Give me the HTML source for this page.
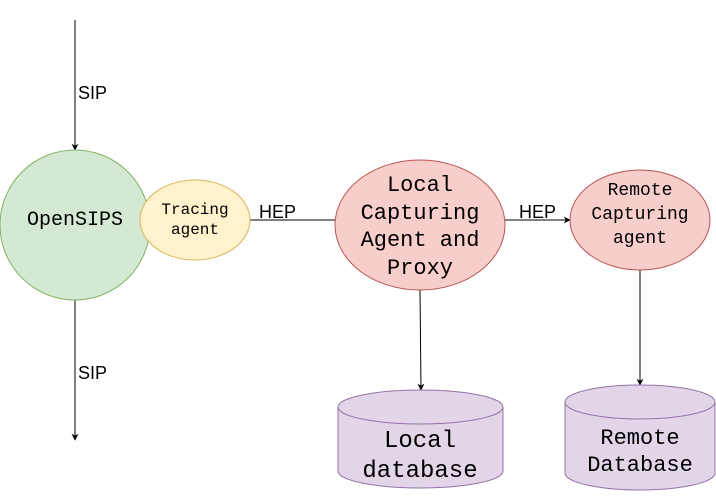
<!DOCTYPE html>
<html><head><meta charset="utf-8"><style>body{margin:0;background:#fff}</style></head><body>
<svg width="716" height="491" viewBox="0 0 716 491" xmlns="http://www.w3.org/2000/svg">
<defs><marker id="a" viewBox="0 0 10 10" refX="9" refY="5" markerWidth="7" markerHeight="7" orient="auto"><path d="M0,0L10,5L0,10L3,5z" fill="#000"/></marker></defs>
<g stroke="#000" stroke-width="1" fill="none">
<line x1="75" y1="20" x2="75" y2="150" marker-end="url(#a)"/>
<line x1="75" y1="300" x2="75" y2="440" marker-end="url(#a)"/>
<line x1="250" y1="220" x2="335" y2="220"/>
<line x1="505" y1="220" x2="570" y2="220" marker-end="url(#a)"/>
<line x1="420" y1="290" x2="421" y2="390" marker-end="url(#a)"/>
<line x1="640" y1="270" x2="640" y2="385" marker-end="url(#a)"/>
</g>
<circle cx="75" cy="225" r="75" fill="#d5e8d4" stroke="#82b366"/>
<ellipse cx="195" cy="220" rx="55" ry="40" fill="#fff2cc" stroke="#d6b656"/>
<ellipse cx="420" cy="225" rx="85" ry="65" fill="#f8cecc" stroke="#b85450"/>
<ellipse cx="640" cy="220" rx="70" ry="50" fill="#f8cecc" stroke="#b85450"/>
<path d="M338,407 L338,471 A82.5,17 0 0 0 503,471 L503,407" fill="#e1d5e7" stroke="#9673a6"/>
<ellipse cx="420.5" cy="407" rx="82.5" ry="17" fill="#e1d5e7" stroke="#9673a6"/>
<path d="M565,402 L565,473 A75,17 0 0 0 715,473 L715,402" fill="#e1d5e7" stroke="#9673a6"/>
<ellipse cx="640" cy="402" rx="75" ry="17" fill="#e1d5e7" stroke="#9673a6"/>
<g font-family="Liberation Sans, sans-serif" font-size="18" fill="#000">
<text x="78" y="99">SIP</text><text x="78" y="379">SIP</text>
<text x="259" y="218">HEP</text><text x="519" y="218">HEP</text>
</g>
<g font-family="Liberation Mono, monospace" fill="#000" text-anchor="middle">
<text x="75" y="225" font-size="20">OpenSIPS</text>
<text x="195" y="214" font-size="16">Tracing</text><text x="195" y="234" font-size="16">agent</text>
<g font-size="22"><text x="420" y="191">Local</text><text x="420" y="219">Capturing</text><text x="420" y="246">Agent and</text><text x="420" y="274">Proxy</text></g>
<g font-size="18"><text x="640" y="195">Remote</text><text x="640" y="219">Capturing</text><text x="640" y="243">agent</text></g>
<g font-size="24"><text x="420" y="447">Local</text><text x="420" y="477">database</text></g>
<g font-size="22"><text x="640" y="444">Remote</text><text x="640" y="471">Database</text></g>
</g>
</svg>
</body></html>
